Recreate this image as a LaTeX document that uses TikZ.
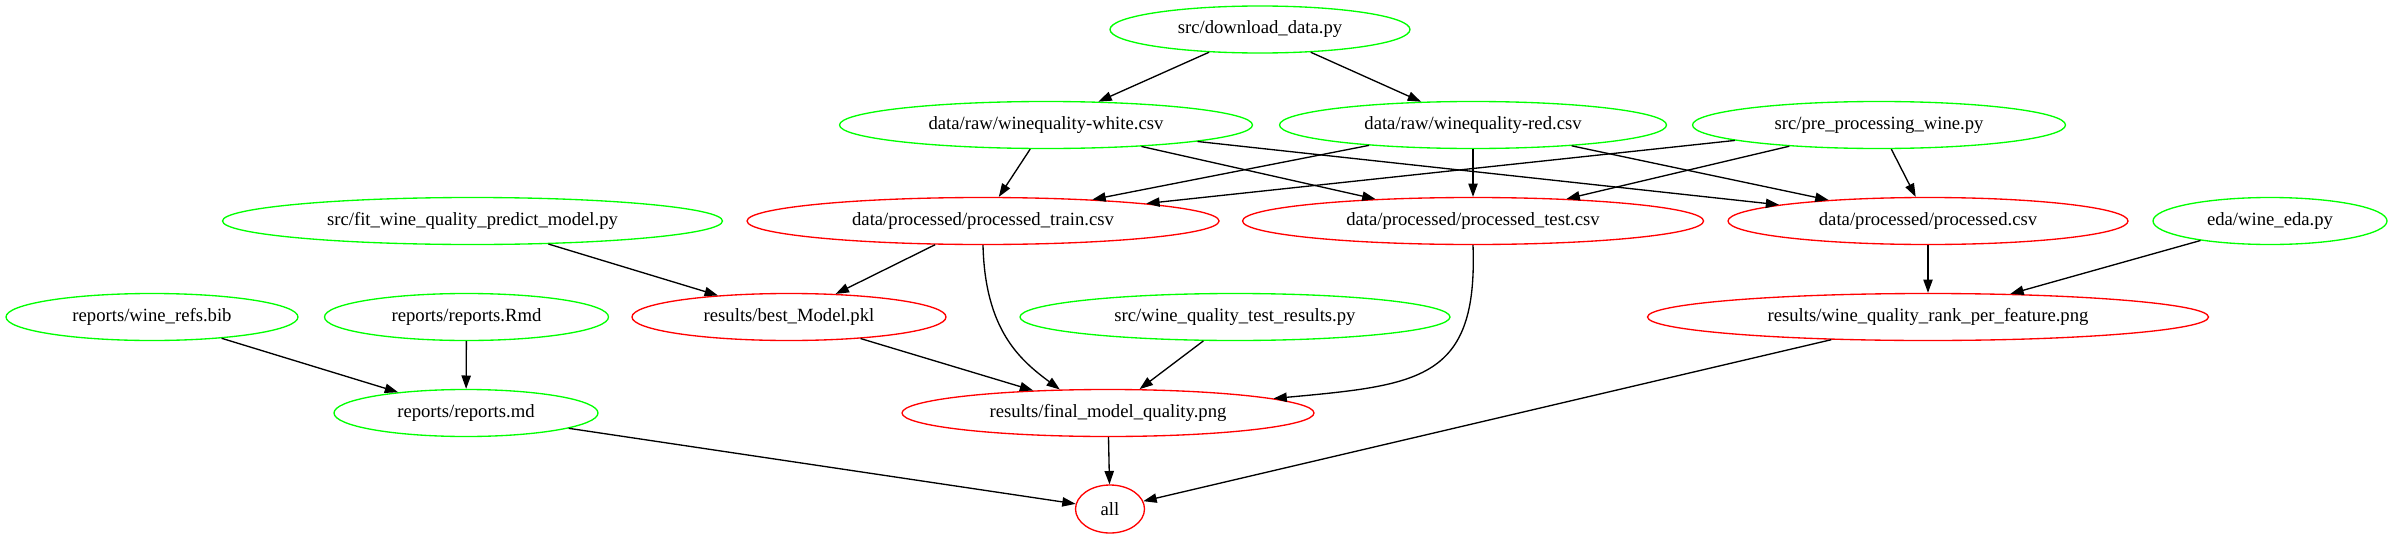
\documentclass[tikz,border=0pt]{standalone}
\usepackage{fontspec}
\setmainfont{Liberation Serif}
\usetikzlibrary{shapes.geometric,arrows.meta}
\definecolor{gvgreen}{RGB}{0,255,0}
\definecolor{gvred}{RGB}{255,0,0}
\tikzset{
  gnode/.style={ellipse, draw=gvgreen, line width=1pt, inner sep=0pt,
    minimum height=35.25pt, font=\fontsize{14}{16}\selectfont},
  rnode/.style={gnode, draw=gvred},
  edge/.style={line width=1pt, draw=black, -{Triangle[length=10pt,width=7pt]}}
}
\begin{document}
\begin{tikzpicture}[x=0.75pt,y=-0.75pt]
\useasboundingbox (0,0) rectangle (2392,539);
% rank 1
\node[gnode, minimum width=225pt] (dl) at (1260,29.5) {src/download\_data.py};
% rank 2
\node[gnode, minimum width=309.75pt] (white) at (1046,125) {data/raw/winequality-white.csv};
\node[gnode, minimum width=290.25pt] (red) at (1473,125) {data/raw/winequality-red.csv};
\node[gnode, minimum width=279.75pt] (pre) at (1879,125) {src/pre\_processing\_wine.py};
% rank 3
\node[gnode, minimum width=375pt] (fit) at (472.5,221) {src/fit\_wine\_quality\_predict\_model.py};
\node[rnode, minimum width=354pt] (train) at (983,221) {data/processed/processed\_train.csv};
\node[rnode, minimum width=345.75pt] (test) at (1473,221) {data/processed/processed\_test.csv};
\node[rnode, minimum width=300pt] (proc) at (1928,221) {data/processed/processed.csv};
\node[gnode, minimum width=175.5pt] (eda) at (2270,221) {eda/wine\_eda.py};
% rank 4
\node[gnode, minimum width=219pt] (bib) at (152,317) {reports/wine\_refs.bib};
\node[gnode, minimum width=213pt] (rmd) at (466.5,317) {reports/reports.Rmd};
\node[rnode, minimum width=235.5pt] (pkl) at (789,317) {results/best\_Model.pkl};
\node[gnode, minimum width=322.5pt] (testres) at (1235,317) {src/wine\_quality\_test\_results.py};
\node[rnode, minimum width=420.75pt] (rank) at (1928,317) {results/wine\_quality\_rank\_per\_feature.png};
% rank 5
\node[gnode, minimum width=198pt] (md) at (466,413) {reports/reports.md};
\node[rnode, minimum width=309pt] (final) at (1108,413) {results/final\_model\_quality.png};
% rank 6
\node[rnode, minimum width=51.75pt, minimum height=36pt] (all) at (1110,509) {all};
% edges
\draw[edge] (dl) -- (white);
\draw[edge] (dl) -- (red);
\draw[edge] (white) -- (train);
\draw[edge] (white) -- (test);
\draw[edge] (white) -- (proc);
\draw[edge] (red) -- (train);
\draw[edge] (red) -- (test);
\draw[edge] (red) -- (proc);
\draw[edge] (pre) -- (train);
\draw[edge] (pre) -- (test);
\draw[edge] (pre) -- (proc);
\draw[edge] (fit) -- (pkl);
\draw[edge] (train) -- (pkl);
\draw[edge] (train.south) .. controls (985,330) and (1020,360) .. (final.154);
\draw[edge] (test.south) .. controls (1478,380) and (1420,385) .. (final.5);
\draw[edge] (testres) -- (final);
\draw[edge] (pkl) -- (final);
\draw[edge] (proc) -- (rank);
\draw[edge] (eda) -- (rank);
\draw[edge] (bib) -- (md);
\draw[edge] (rmd) -- (md);
\draw[edge] (md) -- (all);
\draw[edge] (final) -- (all);
\draw[edge] (rank) -- (all);
\end{tikzpicture}
\end{document}
